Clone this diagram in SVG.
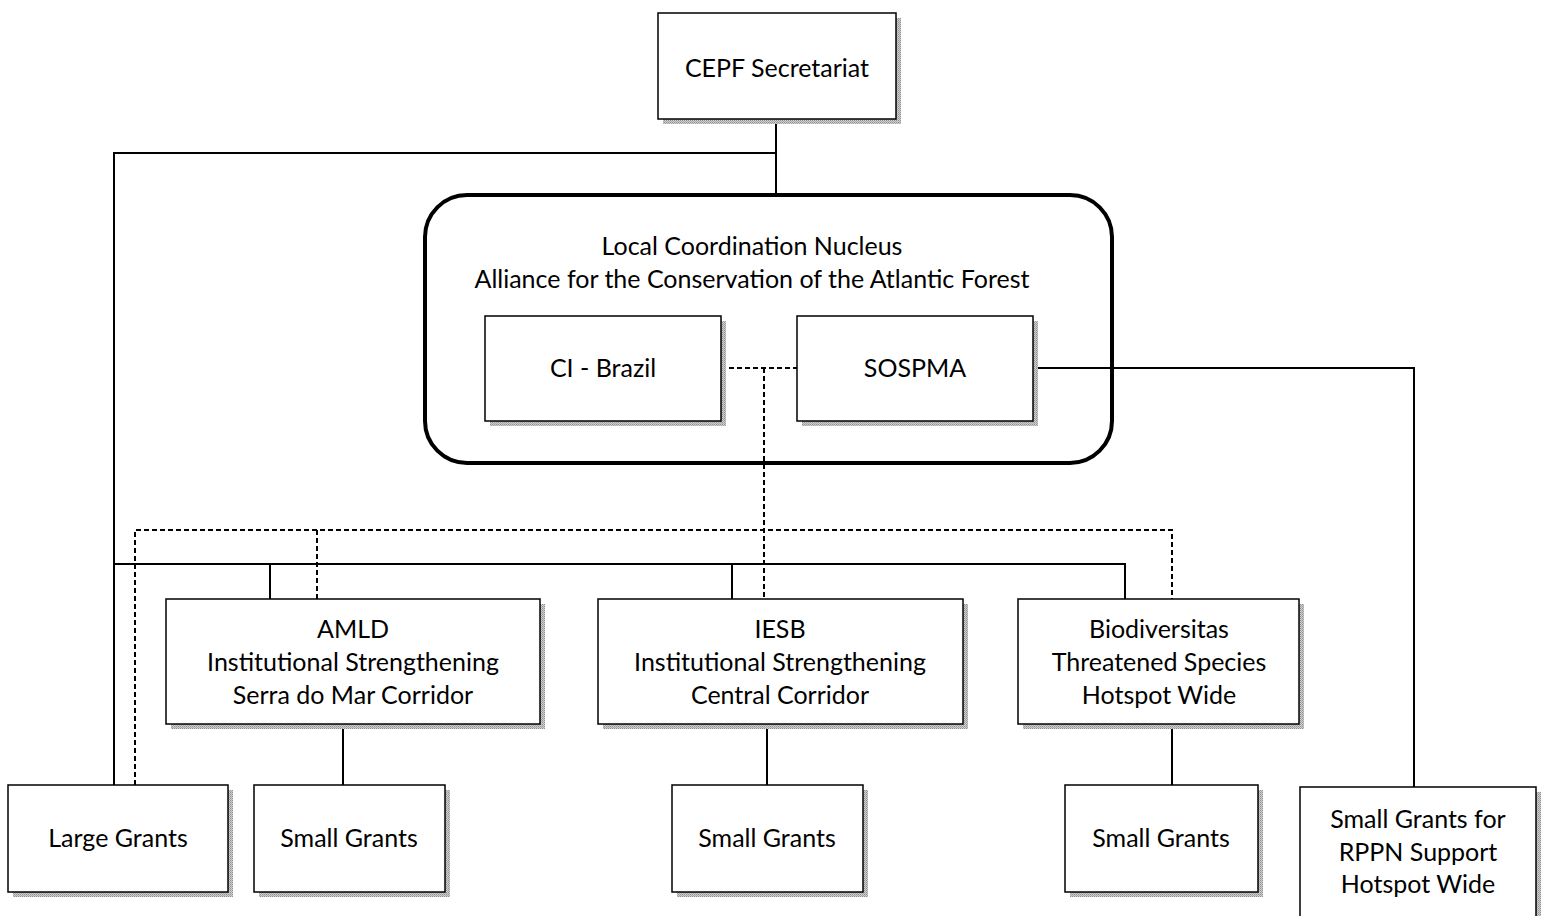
<svg xmlns="http://www.w3.org/2000/svg" width="1543" height="916" viewBox="0 0 1543 916">
<defs>
<pattern id="hatch" width="2" height="2" patternUnits="userSpaceOnUse">
<rect width="2" height="2" fill="#d0d0d0"/>
<rect width="1" height="1" fill="#909090"/>
<rect x="1" y="1" width="1" height="1" fill="#a8a8a8"/>
</pattern>
<style>
.box{fill:#fff;stroke:#000;stroke-width:1.5}
.sh{fill:url(#hatch)}
.t{font-family:Lato,"Liberation Sans",sans-serif;font-size:25px;fill:#000;text-anchor:middle}
.c{fill:none;stroke:#000;stroke-width:2}
.d{fill:none;stroke:#000;stroke-width:2;stroke-dasharray:5 3}
</style>
</defs>
<rect width="1543" height="916" fill="#fff"/>

<g id="nucleus">
<rect x="425" y="195" width="687" height="268" rx="42" ry="42" fill="#fff" stroke="#000" stroke-width="4"/>
<text class="t" x="752" y="255">Local Coordination Nucleus</text>
<text class="t" x="752" y="288">Alliance for the Conservation of the Atlantic Forest</text>
</g>

<g id="connectors">
<path class="c" d="M776 119V194M776 153H114V785M114 564H1126M1125 564V599M270 564V599M732 564V599M343 724V785M767 724V785M1172 724V785M1033 368H1414V787"/>
<path class="d" d="M721 368H797M764 368V599M135 785V530H1172V599M317 530V599"/>
</g>

<g id="cepf">
<rect class="sh" x="663" y="18" width="238" height="106"/>
<rect class="box" x="658" y="13" width="238" height="106"/>
<text class="t" x="777" y="77">CEPF Secretariat</text>
</g>

<g id="ci-brazil">
<rect class="sh" x="490" y="321" width="236" height="105"/>
<rect class="box" x="485" y="316" width="236" height="105"/>
<text class="t" x="603" y="377">CI - Brazil</text>
</g>

<g id="sospma">
<rect class="sh" x="802" y="321" width="236" height="105"/>
<rect class="box" x="797" y="316" width="236" height="105"/>
<text class="t" x="915" y="377">SOSPMA</text>
</g>

<g id="amld">
<rect class="sh" x="171" y="604" width="374" height="125"/>
<rect class="box" x="166" y="599" width="374" height="125"/>
<text class="t" x="353" y="638">AMLD</text>
<text class="t" x="353" y="671">Institutional Strengthening</text>
<text class="t" x="353" y="704">Serra do Mar Corridor</text>
</g>

<g id="iesb">
<rect class="sh" x="603" y="604" width="365" height="125"/>
<rect class="box" x="598" y="599" width="365" height="125"/>
<text class="t" x="780" y="638">IESB</text>
<text class="t" x="780" y="671">Institutional Strengthening</text>
<text class="t" x="780" y="704">Central Corridor</text>
</g>

<g id="biodiversitas">
<rect class="sh" x="1023" y="604" width="281" height="125"/>
<rect class="box" x="1018" y="599" width="281" height="125"/>
<text class="t" x="1159" y="638">Biodiversitas</text>
<text class="t" x="1159" y="671">Threatened Species</text>
<text class="t" x="1159" y="704">Hotspot Wide</text>
</g>

<g id="large-grants">
<rect class="sh" x="13" y="790" width="220" height="107"/>
<rect class="box" x="8" y="785" width="220" height="107"/>
<text class="t" x="118" y="847">Large Grants</text>
</g>

<g id="small-grants-1">
<rect class="sh" x="259" y="790" width="191" height="107"/>
<rect class="box" x="254" y="785" width="191" height="107"/>
<text class="t" x="349" y="847">Small Grants</text>
</g>

<g id="small-grants-2">
<rect class="sh" x="677" y="790" width="191" height="107"/>
<rect class="box" x="672" y="785" width="191" height="107"/>
<text class="t" x="767" y="847">Small Grants</text>
</g>

<g id="small-grants-3">
<rect class="sh" x="1070" y="790" width="193" height="107"/>
<rect class="box" x="1065" y="785" width="193" height="107"/>
<text class="t" x="1161" y="847">Small Grants</text>
</g>

<g id="rppn">
<rect class="sh" x="1305" y="792" width="236" height="140"/>
<rect class="box" x="1300" y="787" width="236" height="140"/>
<text class="t" x="1418" y="828">Small Grants for</text>
<text class="t" x="1418" y="861">RPPN Support</text>
<text class="t" x="1418" y="893">Hotspot Wide</text>
</g>
</svg>
